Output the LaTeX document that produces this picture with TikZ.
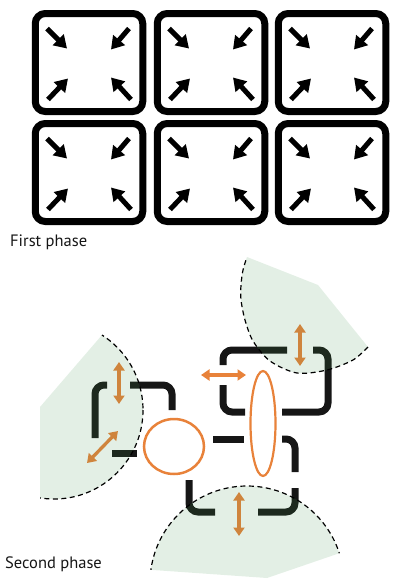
\documentclass[tikz,border=0pt]{standalone}
\usepackage{fontspec}
\setmainfont{PT Sans}
\usetikzlibrary{arrows.meta,calc,shapes.geometric}
\definecolor{orng}{RGB}{232,130,58}
\definecolor{grn}{RGB}{70,150,80}
\definecolor{blk}{RGB}{22,22,22}
\begin{document}
\begin{tikzpicture}[x=1pt,y=-1pt,
  cell/.style={draw=black, line width=7pt, rounded corners=10pt, minimum width=107.5pt, minimum height=98pt, inner sep=0pt},
  barrow/.style={line width=5pt, -{Triangle[length=12.5pt,width=15pt]}},
  brk/.style={draw=blk, line width=7pt, rounded corners=9pt},
  oarrow/.style={draw=orng, line width=3.3pt, {Triangle[length=8.5pt,width=11pt]}-{Triangle[length=8.5pt,width=11pt]}},
  oshape/.style={draw=orng, line width=2.5pt, ellipse, inner sep=0pt},
  zone/.style={fill=grn, fill opacity=0.15},
  rim/.style={draw=black, line width=1.2pt, dash pattern=on 5pt off 3.5pt},
  lbl/.style={font=\fontsize{16.5}{19}\selectfont, anchor=base west, inner sep=0pt, text=blk}
]
\useasboundingbox (0,0) rectangle (392,579);

% ---------- First phase ----------
\foreach \cx/\cy/\nm in {89/62.5/b1, 211/62.5/b2, 332/62.5/b3, 89/172.5/b4, 211/172.5/b5, 332/172.5/b6}{
  \node[cell] (\nm) at (\cx,\cy) {};
  \draw[barrow] ($(\nm.center)+(-42,-34)$) -- ($(\nm.center)+(-22,-14)$);
  \draw[barrow] ($(\nm.center)+(40,-34)$) -- ($(\nm.center)+(22,-13)$);
  \draw[barrow] ($(\nm.center)+(-41,37)$) -- ($(\nm.center)+(-21,16)$);
  \draw[barrow] ($(\nm.center)+(42,37)$) -- ($(\nm.center)+(22,15)$);
}
\node[lbl] (t1) at (10,246) {First phase};

% ---------- Second phase ----------
% left square
\draw[brk] (95,438) -- (95,385) -- (107,385);
\draw[brk] (130,385) -- (172,385) -- (172,410);
\draw[brk] (112,453) -- (137,453);
% upper right square
\draw[brk] (223,365) -- (223,350) -- (287,350);
\draw[brk] (313,350) -- (328,350) -- (328,412) -- (282,412);
\draw[brk] (223,385) -- (223,412) -- (245,412);
% bottom square
\draw[brk] (213,439) -- (244,439);
\draw[brk] (282,439) -- (295,439) -- (295,472);
\draw[brk] (295,488) -- (295,512) -- (258,512);
\draw[brk] (189,480) -- (189,512) -- (215,512);

% orange shapes
\node[oshape, minimum width=60pt, minimum height=55pt] (cell1) at (174,446.5) {};
\node[oshape, line width=2.2pt, minimum width=25pt, minimum height=105pt] (cell2) at (263,423.5) {};

% orange double arrows
\draw[oarrow] (119,362) -- (119,404);
\draw[oarrow] (87,463) -- (118,431);
\draw[oarrow] (201,375) -- (246,375);
\draw[oarrow] (300,324) -- (300,366);
\draw[oarrow] (239,492) -- (239,536);

% green zones
\begin{scope}
  \clip (40,407) -- (133,299) -- (250,299) -- (250,520) -- (40,520) -- cycle;
  \fill[zone] (54,410) circle[radius=89];
  \draw[rim] (54,410) circle[radius=89];
\end{scope}
\begin{scope}
  \clip (100,400) -- (400,400) -- (400,532) -- (340,553) -- (267,578) -- (153,570) -- (100,566) -- cycle;
  \fill[zone] (247,583) circle[radius=97];
  \draw[rim] (247,583) circle[radius=97];
\end{scope}
\fill[zone] (247,257) -- (318,285) -- (368,347) -- plot[smooth] coordinates {(368,347) (353,360) (327,370) (297,373) (270,361) (253,341) (245,320) (241,300) (241,285) (243,270) (247,257)} -- cycle;
\draw[rim] plot[smooth] coordinates {(368,347) (353,360) (327,370) (297,373) (270,361) (253,341) (245,320) (241,300) (241,285) (243,270) (247,257)};

\node[lbl] (t2) at (5,568) {Second phase};
\end{tikzpicture}
\end{document}
